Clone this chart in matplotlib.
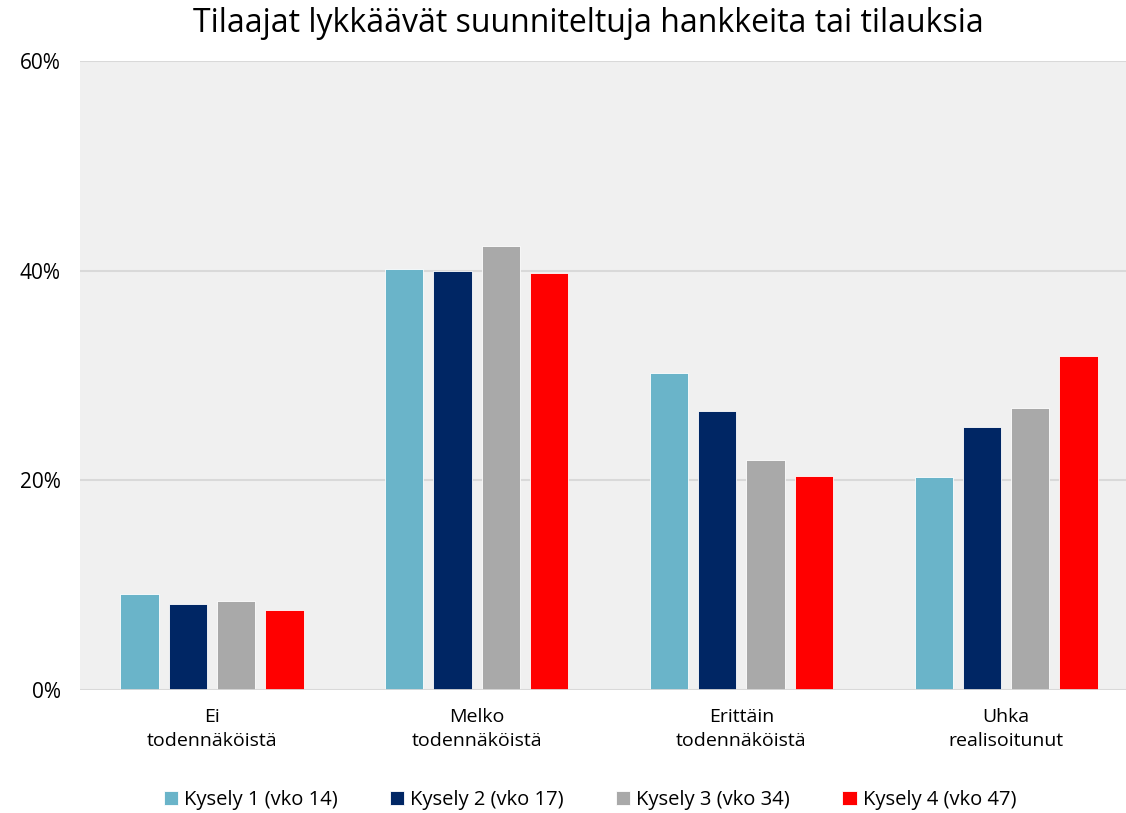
import matplotlib
matplotlib.use("Agg")
import matplotlib.pyplot as plt
import numpy as np
from matplotlib.ticker import FuncFormatter

categories = ["Ei\ntodennäköistä", "Melko\ntodennäköistä", "Erittäin\ntodennäköistä", "Uhka\nrealisoitunut"]
series_names = ["Kysely 1 (vko 14)", "Kysely 2 (vko 17)", "Kysely 3 (vko 34)", "Kysely 4 (vko 47)"]
kysely1 = [9.2, 40.2, 30.2, 20.3]
kysely2 = [8.2, 40.0, 26.6, 25.1]
kysely3 = [8.5, 42.4, 21.9, 26.9]
kysely4 = [7.6, 39.8, 20.4, 31.9]
colors = ["#6AB4C9", "#002664", "#A9A9A9", "#FF0000"]
yticks = [0, 20, 40, 60]

plt.rcParams['font.family'] = ['Open Sans', 'DejaVu Sans']

fig = plt.figure(figsize=(11.26, 8.13), dpi=100)
W, H = 1126, 813
ax = fig.add_axes([80 / W, 1 - 690 / H, (1126 - 80) / W, (690 - 61) / H])
ax.set_facecolor("#F0F0F0")

x = np.arange(len(categories))
width = 0.144
step = 0.1825
allvals = [kysely1, kysely2, kysely3, kysely4]
for i, (vals, name, c) in enumerate(zip(allvals, series_names, colors)):
    ax.bar(x + (i - 1.5) * step, vals, width, color=c, label=name,
           edgecolor="#FFFFFF", linewidth=0.6, zorder=3)

ax.set_xlim(-0.4987, 3.453)
ax.set_ylim(0, 60)
ax.set_yticks(yticks)
ax.yaxis.set_major_formatter(FuncFormatter(lambda v, p: f"{int(v)}%"))
ax.grid(axis="y", color="#D9D9D9", linewidth=1.5, zorder=0)
ax.set_axisbelow(True)
for s in ax.spines.values():
    s.set_visible(False)
ax.axhline(0, color="#D9D9D9", linewidth=2, zorder=4)
ax.set_xticks(x)
ax.set_xticklabels(categories, fontsize=14, linespacing=1.45)
ax.tick_params(axis="both", length=0)
ax.tick_params(axis="x", pad=13)
ax.tick_params(axis="y", pad=14)
for lbl in ax.get_yticklabels():
    lbl.set_fontsize(15)

fig.text(588 / W, 1 - 23 / H, "Tilaajat lykkäävät suunniteltuja hankkeita tai tilauksia",
         fontsize=23, ha="center", va="center")

leg = fig.legend(loc="center", bbox_to_anchor=(590 / W, 1 - 800 / H), ncol=4, frameon=False,
                 fontsize=14.5, handlelength=0.7, handleheight=0.7, handletextpad=0.3, columnspacing=2.6)

fig.savefig("out.png", dpi=100)
